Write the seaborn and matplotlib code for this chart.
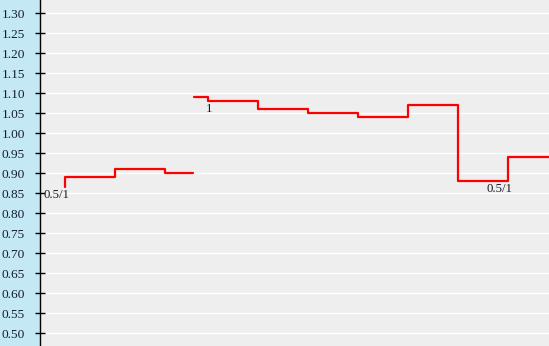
import matplotlib
matplotlib.use("Agg")
import matplotlib.pyplot as plt
import seaborn as sns
import pandas as pd

# Data (x in period units, y values)
seg1_x = [0.5, 0.5, 1.5, 2.5, 3.06]
seg1_y = [0.867, 0.89, 0.91, 0.90, 0.90]
seg2_x = [3.08, 3.36, 4.36, 5.36, 6.36, 7.36, 8.36, 9.36, 10.4]
seg2_y = [1.09, 1.08, 1.06, 1.05, 1.04, 1.07, 0.88, 0.94, 0.94]

ann_x = [0.5, 3.36, 9.36]
ann_y = [0.867, 1.08, 0.88]
ann_text = ["0.5/1", "1", "0.5/1"]

y_ticks = [0.50, 0.55, 0.60, 0.65, 0.70, 0.75, 0.80, 0.85, 0.90, 0.95,
           1.00, 1.05, 1.10, 1.15, 1.20, 1.25, 1.30]

df = pd.DataFrame({
    "x": seg1_x + seg2_x,
    "y": seg1_y + seg2_y,
    "seg": ["a"] * len(seg1_x) + ["b"] * len(seg2_x),
})

sns.set_theme(style="white")
plt.rcParams["font.family"] = ["Liberation Serif", "DejaVu Serif"]

fig = plt.figure(figsize=(5.49, 3.46), dpi=100)
fig.patch.set_facecolor("#c4e8f4")
ax = fig.add_axes([40 / 549, 0, 1 - 40 / 549, 1])
ax.set_facecolor("#eeeeee")

sns.lineplot(data=df, x="x", y="y", units="seg", estimator=None, sort=False,
             color="#ff0000", linewidth=1.6, drawstyle="steps-post", ax=ax,
             legend=False)

for xv, yv, t in zip(ann_x, ann_y, ann_text):
    ax.annotate(t, (xv, yv), xytext=(3, -1.5), textcoords="offset points",
                ha="right", va="top", fontsize=9.2, color="#1a1a2a")

ax.set_xlim(0, 10.18)
ax.set_ylim(0.4683, 1.3333)
ax.set_yticks(y_ticks)
ax.set_yticklabels([f"{v:.2f}" for v in y_ticks])
ax.set_xticks([])
ax.set_xlabel("")
ax.set_ylabel("")
ax.grid(axis="y", color="white", linewidth=1.0)
ax.set_axisbelow(True)
for s in ["top", "right", "bottom"]:
    ax.spines[s].set_visible(False)
ax.spines["left"].set_color("black")
ax.spines["left"].set_linewidth(1.0)
ax.tick_params(axis="y", direction="inout", length=6.5, width=1.0, color="black",
               labelsize=9.6, labelcolor="#141c3a", pad=7.5, left=True)

fig.savefig("out.png", dpi=100, facecolor=fig.get_facecolor())
